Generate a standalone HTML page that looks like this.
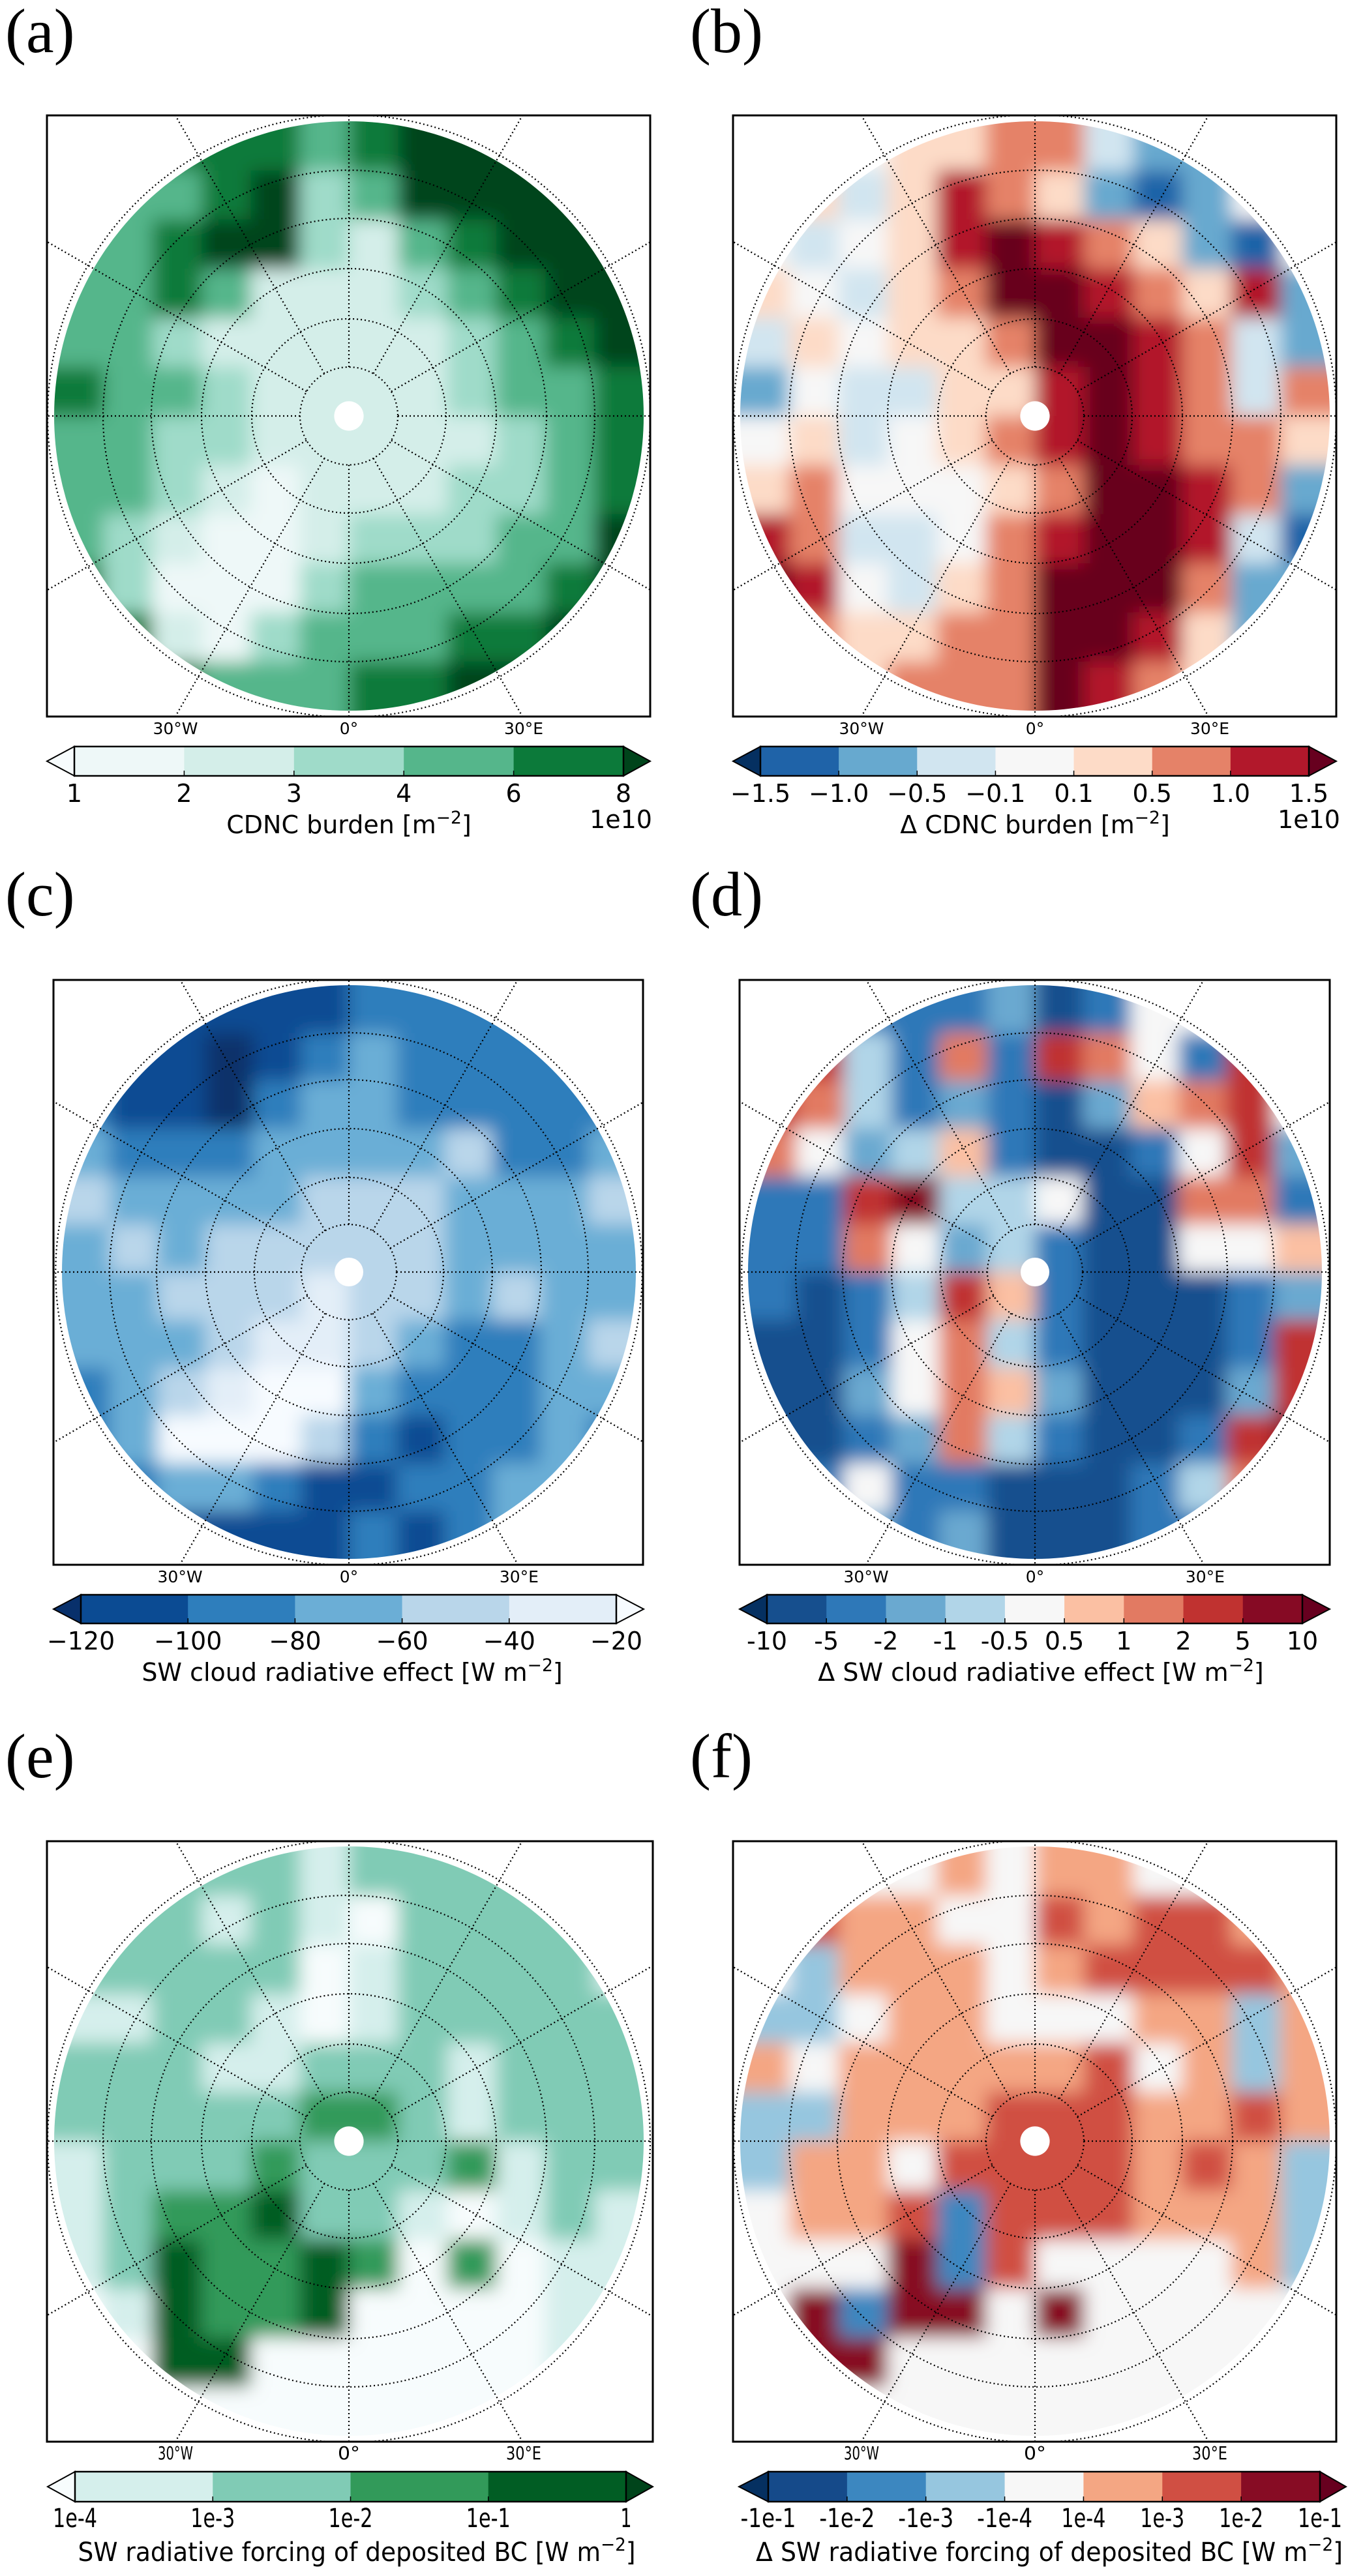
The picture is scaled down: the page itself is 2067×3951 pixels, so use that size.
<!DOCTYPE html>
<html><head><meta charset="utf-8">
<style>
html,body{margin:0;padding:0;background:#fff;width:2067px;height:3951px;overflow:hidden;}
svg{display:block;}
</style></head>
<body>
<svg id="fig" xmlns="http://www.w3.org/2000/svg" width="2067" height="3951" viewBox="0 0 2067 3951">
<defs>
<filter id="soft" x="-20%" y="-20%" width="140%" height="140%"><feGaussianBlur stdDeviation="14"/></filter>
</defs>
<rect x="0" y="0" width="2067" height="3951" fill="#fff"/>
</svg>
<script>
// ---- field data (level indices per coarse grid cell, 12x12, row = top->bottom) ----
const gridA = [
[5,5,5,5,5,4,5,6,6,6,6,6],
[4,4,4,5,6,3,4,6,6,6,6,6],
[4,4,5,6,6,3,2,4,5,6,6,6],
[4,4,5,4,2,2,2,3,4,5,6,6],
[4,4,3,2,2,2,2,2,3,4,5,6],
[5,4,4,3,2,2,2,2,3,4,4,5],
[4,4,3,3,2,2,2,2,2,3,4,5],
[4,4,3,2,1,2,2,2,3,3,4,5],
[4,3,2,1,1,2,3,3,3,4,4,6],
[5,3,1,1,1,3,4,4,4,4,5,6],
[5,5,2,1,3,4,4,4,5,5,6,6],
[5,5,5,4,4,4,5,5,6,6,6,6]];
const gridB = [
[4,4,4,5,5,6,6,3,2,2,2,4],
[4,5,3,5,7,6,5,2,1,2,4,4],
[4,3,4,5,7,8,7,6,5,2,1,4],
[5,4,3,5,6,8,8,7,6,5,7,2],
[3,5,4,5,5,6,8,8,7,6,3,2],
[2,4,3,3,5,5,7,8,7,6,3,6],
[4,5,3,4,5,6,7,8,7,6,6,5],
[5,6,4,4,4,5,6,8,8,7,6,2],
[7,6,3,3,4,6,7,8,8,7,3,1],
[8,7,4,3,5,6,8,8,8,6,2,2],
[7,6,5,5,6,6,8,8,7,5,2,2],
[5,5,5,6,6,6,8,7,6,5,4,4]];
const gridC = [
[1,1,1,1,1,1,2,2,2,2,2,2],
[1,1,1,0,1,2,3,2,2,2,2,2],
[2,1,1,0,2,3,3,2,2,2,2,2],
[3,2,2,2,3,3,3,3,4,2,2,3],
[4,3,3,3,3,4,4,4,3,3,3,4],
[3,4,3,4,4,4,4,4,3,3,3,3],
[3,3,4,4,4,5,4,4,3,4,3,3],
[3,3,3,4,5,5,4,3,2,2,3,4],
[2,3,4,5,6,6,3,2,2,2,3,3],
[2,3,6,6,6,4,2,1,2,2,3,2],
[2,2,3,3,2,1,1,2,2,3,3,2],
[2,1,1,1,1,1,2,1,2,3,4,3]];
const gridD = [
[7,7,2,2,2,3,1,2,5,5,5,5],
[7,8,4,2,7,2,8,7,5,2,8,5],
[8,7,4,2,3,2,1,3,6,7,8,5],
[7,5,3,4,6,2,1,1,2,5,8,3],
[2,2,8,9,4,4,5,1,1,7,7,2],
[2,2,7,5,3,4,2,1,1,5,5,6],
[2,1,2,4,8,6,2,1,1,1,2,3],
[1,1,2,5,7,4,2,1,1,1,2,8],
[1,1,3,5,7,6,3,1,1,1,3,8],
[1,1,2,3,7,4,2,1,1,2,8,9],
[1,2,5,2,2,1,1,1,2,4,7,5],
[4,7,3,2,3,1,1,1,2,2,5,5]];
const gridE = [
[2,2,2,2,2,1,2,2,2,2,2,1],
[2,2,2,1,2,1,0,2,2,2,2,1],
[2,2,2,2,2,0,1,2,2,2,2,1],
[1,1,2,2,1,0,1,2,2,2,2,2],
[2,2,2,1,1,2,2,2,1,2,2,2],
[2,2,2,2,2,3,3,2,1,2,2,2],
[1,2,2,2,3,2,2,2,3,1,2,2],
[1,2,3,3,4,2,2,1,0,1,2,1],
[1,2,4,3,3,4,3,0,3,0,1,1],
[0,1,4,3,3,4,0,0,0,0,1,1],
[0,0,4,4,0,0,0,0,0,0,1,0],
[0,0,0,0,0,0,0,0,0,0,0,0]];
const gridF = [
[4,4,4,4,5,4,5,5,4,4,4,4],
[4,6,5,5,4,4,6,5,6,6,5,4],
[4,3,5,5,5,4,5,6,6,6,6,5],
[3,3,4,5,5,4,4,4,5,5,3,5],
[5,4,5,5,5,5,5,6,4,5,3,5],
[3,3,5,5,5,6,6,6,5,5,6,5],
[3,5,5,4,6,6,6,6,5,6,5,3],
[4,5,5,6,2,6,6,6,5,5,5,3],
[4,4,4,7,2,6,4,4,4,4,5,3],
[4,7,2,7,7,4,7,4,4,4,4,4],
[4,7,7,4,4,4,4,4,4,4,4,4],
[4,4,4,4,4,4,4,4,4,4,4,4]];

// ---- colour levels (index 0 = lower extension, last = upper extension) ----
const colA = ["#f7fcfd","#eef8f8","#d4eee9","#9fdbc9","#55b68b","#0c7a3a","#00441b"];
const colB = ["#053061","#1f63a8","#67a9cf","#d1e5f0","#f7f7f7","#fddbc7","#e58268","#b2182b","#67001f"];
const colC = ["#08306b","#0b4b93","#2e7ebc","#6baed6","#b9d6ea","#e3eef8","#f7fbff"];
const colD = ["#053061","#164f8e","#2e78b8","#6aa9d0","#b1d5e8","#f7f7f7","#fbc0a3","#e27a62","#c03230","#860a24","#67001f"];
const colE = ["#f7fcfd","#d5efec","#80cbb5","#329a5a","#015d24","#00441b"];
const colF = ["#053061","#154a8a","#3c87c0","#96c6df","#f7f7f7","#f4a683","#d04f43","#870c24","#67001f"];

// ---- colourbar tick labels ----
const ticksA = ["1","2","3","4","6","8"];
const ticksB = ["\u22121.5","\u22121.0","\u22120.5","\u22120.1","0.1","0.5","1.0","1.5"];
const ticksC = ["\u2212120","\u2212100","\u221280","\u221260","\u221240","\u221220"];
const ticksD = ["-10","-5","-2","-1","-0.5","0.5","1","2","5","10"];
const ticksE = ["1e-4","1e-3","1e-2","1e-1","1"];
const ticksF = ["-1e-1","-1e-2","-1e-3","-1e-4","1e-4","1e-3","1e-2","1e-1"];
const lonTicks = ["30\u00b0W","0\u00b0","30\u00b0E"];

const NS="http://www.w3.org/2000/svg";
const svg=document.getElementById('fig');
function mk(tag,attrs,parent){const e=document.createElementNS(NS,tag);for(const k in attrs)e.setAttribute(k,attrs[k]);(parent||svg).appendChild(e);return e;}

function drawPanel(p){
  const g=mk('g',{});
  
  
  const lab=mk('text',{x:p.lx,y:p.ly,'font-family':'Liberation Serif, serif','font-size':96,fill:'#000'},g);
  lab.textContent='('+p.id+')';
  
  
  const [bx0,by0,bx1,by1]=p.box;
  const cid='clip'+p.id, bid='box'+p.id;
  const d=mk('defs',{},g);
  const cp=mk('clipPath',{id:cid},d); mk('circle',{cx:p.cx,cy:p.cy,r:p.r},cp);
  const bp=mk('clipPath',{id:bid},d); mk('rect',{x:bx0,y:by0,width:bx1-bx0,height:by1-by0},bp);
  const fg=mk('g',{'clip-path':'url(#'+cid+')'},g);
  
  
  const inner=mk('g',{filter:'url(#soft)'},fg);
  const n=p.grid.length, cell=2*p.r/n, pad=40;
  for(let i=0;i<n;i++){for(let j=0;j<n;j++){
    let x=p.cx-p.r+j*cell, y=p.cy-p.r+i*cell, w=cell+1, h=cell+1;
    if(j===0){x-=pad;w+=pad;} if(j===n-1){w+=pad;}
    if(i===0){y-=pad;h+=pad;} if(i===n-1){h+=pad;}
    const c=mk('rect',{x:x,y:y,width:w,height:h,fill:p.colors[p.grid[i][j]]},inner);
    
    
  }}
  const hole=mk('circle',{cx:p.cx,cy:p.cy,r:p.r*0.05,fill:'#fff'},g);
  
  
  const gg=mk('g',{'clip-path':'url(#'+bid+')',fill:'none',stroke:'#000','stroke-width':2.2,'stroke-dasharray':'2 4'},g);
  
  
  const k=p.r/452;
  [75,149,226,303,377,462].forEach(rr=>{mk('circle',{cx:p.cx,cy:p.cy,r:rr*k},gg);});
  for(let a=0;a<360;a+=30){
    const t=a*Math.PI/180, sx=Math.sin(t), sy=Math.cos(t), r0=75*k;
    let tm=1e9;
    if(sx>1e-6) tm=Math.min(tm,(bx1-p.cx)/sx); if(sx<-1e-6) tm=Math.min(tm,(bx0-p.cx)/sx);
    if(sy>1e-6) tm=Math.min(tm,(by1-p.cy)/sy); if(sy<-1e-6) tm=Math.min(tm,(by0-p.cy)/sy);
    mk('line',{x1:p.cx+r0*sx,y1:p.cy+r0*sy,x2:p.cx+tm*sx,y2:p.cy+tm*sy},gg);
  }
  const fr=mk('rect',{x:bx0,y:by0,width:bx1-bx0,height:by1-by0,fill:'none',stroke:'#000','stroke-width':3},g);
  
  
  const offs=[-266,0,268];
  lonTicks.forEach((s,i)=>{
    const t=mk('text',{x:p.cx+offs[i]*k,y:by1+27,'text-anchor':'middle','font-family':'DejaVu Sans, Liberation Sans, sans-serif','font-size':p.cond?28:25,fill:'#000'},g);
    if(p.cond){t.setAttribute('textLength',s.length*10+14);t.setAttribute('lengthAdjust','spacingAndGlyphs');}
    t.textContent=s;
    
    
  });
  const cb=p.cb, cg=mk('g',{},g);
  
  
  const nb=p.colors.length-2, bw=(cb.x1-cb.x0)/nb, ym=(cb.y0+cb.y1)/2;
  mk('polygon',{points:`${cb.x0},${cb.y0} ${cb.tl},${ym} ${cb.x0},${cb.y1}`,fill:p.colors[0],stroke:'#000','stroke-width':2},cg);
  mk('polygon',{points:`${cb.x1},${cb.y0} ${cb.tr},${ym} ${cb.x1},${cb.y1}`,fill:p.colors[p.colors.length-1],stroke:'#000','stroke-width':2},cg);
  for(let i=0;i<nb;i++){
    const r=mk('rect',{x:cb.x0+i*bw,y:cb.y0,width:bw+0.5,height:cb.y1-cb.y0,fill:p.colors[i+1]},cg);
    
    
  }
  mk('rect',{x:cb.x0,y:cb.y0,width:cb.x1-cb.x0,height:cb.y1-cb.y0,fill:'none',stroke:'#000','stroke-width':2.5},cg);
  p.ticks.forEach((s,i)=>{
    const x=cb.x0+i*bw;
    mk('line',{x1:x,y1:cb.y1,x2:x,y2:cb.y1-8,stroke:'#000','stroke-width':1.5},cg);
    const t=mk('text',{x:x,y:cb.ty,'text-anchor':'middle','font-family':'DejaVu Sans, Liberation Sans, sans-serif','font-size':p.tfs,fill:'#000'},cg);
    if(p.cond){t.setAttribute('textLength',s.length*17);t.setAttribute('lengthAdjust','spacingAndGlyphs');}
    t.textContent=s;
    
    
  });
  const tt=mk('text',{x:cb.lx,y:cb.ly,'text-anchor':'middle','font-family':'DejaVu Sans, Liberation Sans, sans-serif','font-size':p.lfs,fill:'#000'},cg);
  if(cb.lw){tt.setAttribute('textLength',cb.lw);tt.setAttribute('lengthAdjust','spacingAndGlyphs');}
  
  
  tt.appendChild(document.createTextNode(p.title));
  const sup=mk('tspan',{dy:-p.lfs*0.4,'font-size':p.lfs*0.7},tt); sup.textContent='\u22122';
  const cl=mk('tspan',{dy:p.lfs*0.4},tt); cl.textContent=']';
  if(p.scale){
    const s=mk('text',{x:cb.x1+cb.sx,y:cb.ly-8,'text-anchor':'end','font-family':'DejaVu Sans, Liberation Sans, sans-serif','font-size':p.tfs,fill:'#000'},cg);
    s.textContent=p.scale;
    
    
  }
}

const panels=[
 {id:'a',grid:gridA,colors:colA,ticks:ticksA,box:[72,177,997,1099],cx:535,cy:638,r:452,lx:8,ly:80,
  cb:{x0:114,x1:956,y0:1145,y1:1190,tl:72,tr:997,ty:1230,lx:535,ly:1278,sx:44},tfs:38,lfs:38,title:'CDNC burden [m',scale:'1e10'},
 {id:'b',grid:gridB,colors:colB,ticks:ticksB,box:[1124,177,2049,1099],cx:1587,cy:638,r:452,lx:1058,ly:80,
  cb:{x0:1166,x1:2007,y0:1145,y1:1190,tl:1124,tr:2049,ty:1230,lx:1587,ly:1278,sx:48},tfs:38,lfs:38,title:'\u0394  CDNC burden [m',scale:'1e10'},
 {id:'c',grid:gridC,colors:colC,ticks:ticksC,box:[82,1503,986,2400],cx:535,cy:1951,r:440,lx:8,ly:1404,
  cb:{x0:124,x1:945,y0:2446,y1:2490,tl:82,tr:987,ty:2530,lx:540,ly:2578},tfs:38,lfs:38,title:'SW cloud radiative effect [W m'},
 {id:'d',grid:gridD,colors:colD,ticks:ticksD,box:[1134,1503,2039,2400],cx:1587,cy:1951,r:440,lx:1058,ly:1404,
  cb:{x0:1176,x1:1997,y0:2446,y1:2490,tl:1134,tr:2039,ty:2530,lx:1596,ly:2578},tfs:38,lfs:38,title:'\u0394  SW cloud radiative effect [W m'},
 {id:'e',grid:gridE,colors:colE,ticks:ticksE,box:[72,2824,1001,3745],cx:535,cy:3284,r:452,lx:8,ly:2726,cond:true,
  cb:{x0:115,x1:960,y0:3791,y1:3837,tl:73,tr:1001,ty:3876,lx:547,ly:3928,lw:855},tfs:40,lfs:40,title:'SW radiative forcing of deposited BC [W m'},
 {id:'f',grid:gridF,colors:colF,ticks:ticksF,box:[1124,2824,2049,3745],cx:1587,cy:3284,r:452,lx:1058,ly:2726,cond:true,
  cb:{x0:1178,x1:2024,y0:3791,y1:3837,tl:1133,tr:2064,ty:3876,lx:1609,ly:3928,lw:900},tfs:40,lfs:40,title:'\u0394 SW radiative forcing of deposited BC [W m'}
];
panels.forEach(drawPanel);
</script>
</body></html>
